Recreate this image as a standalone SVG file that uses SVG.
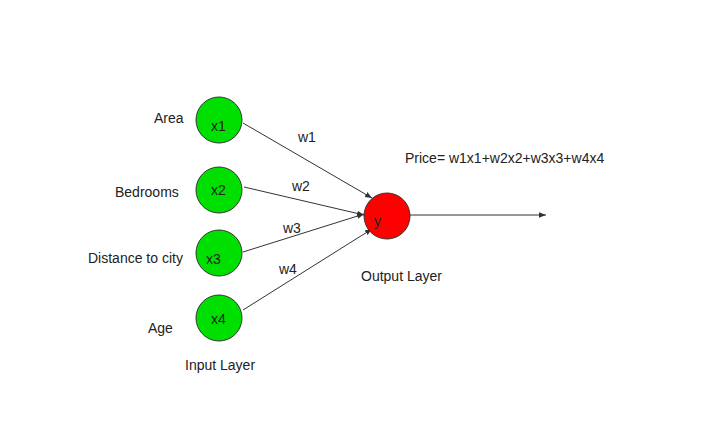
<svg xmlns="http://www.w3.org/2000/svg" width="722" height="437" viewBox="0 0 722 437">
<style>
text{font-family:"Liberation Sans",Arial,sans-serif;font-size:14px;fill:#222}
.n{fill:#00e000;stroke:#333;stroke-width:1}
.c line{stroke:#333;stroke-width:1;marker-end:url(#a)}
</style>
<defs><marker id="a" viewBox="0 0 10 10" refX="10" refY="5" markerWidth="7" markerHeight="7" orient="auto"><path d="M0,1L10,5L0,9z" fill="#333"/></marker></defs>
<rect width="722" height="437" fill="#fff"/>
<g class="c">
<line x1="243" y1="123" x2="372" y2="198"/>
<line x1="244" y1="187" x2="364" y2="215"/>
<line x1="243" y1="252" x2="364" y2="214"/>
<line x1="243" y1="310" x2="372" y2="229"/>
<line x1="410" y1="215" x2="546" y2="215"/>
</g>
<g id="x1"><circle class="n" cx="219" cy="120" r="23"/><text x="211" y="131">x1</text></g>
<g id="x2"><circle class="n" cx="219" cy="190" r="23"/><text x="211" y="195">x2</text></g>
<g id="x3"><circle class="n" cx="219" cy="253" r="23"/><text x="206" y="264">x3</text></g>
<g id="x4"><circle class="n" cx="219" cy="318" r="23"/><text x="211" y="324">x4</text></g>
<g id="y"><circle cx="387" cy="216" r="23" fill="#f00" stroke="#333"/><text x="374" y="226">y</text></g>
<text x="154" y="123">Area</text>
<text x="115" y="197">Bedrooms</text>
<text x="88" y="263">Distance to city</text>
<text x="148" y="333">Age</text>
<text x="298" y="142">w1</text>
<text x="292" y="191">w2</text>
<text x="283" y="233">w3</text>
<text x="279" y="274">w4</text>
<text x="361" y="281">Output Layer</text>
<text x="185" y="370">Input Layer</text>
<text x="405" y="163">Price= w1x1+w2x2+w3x3+w4x4</text>
</svg>
